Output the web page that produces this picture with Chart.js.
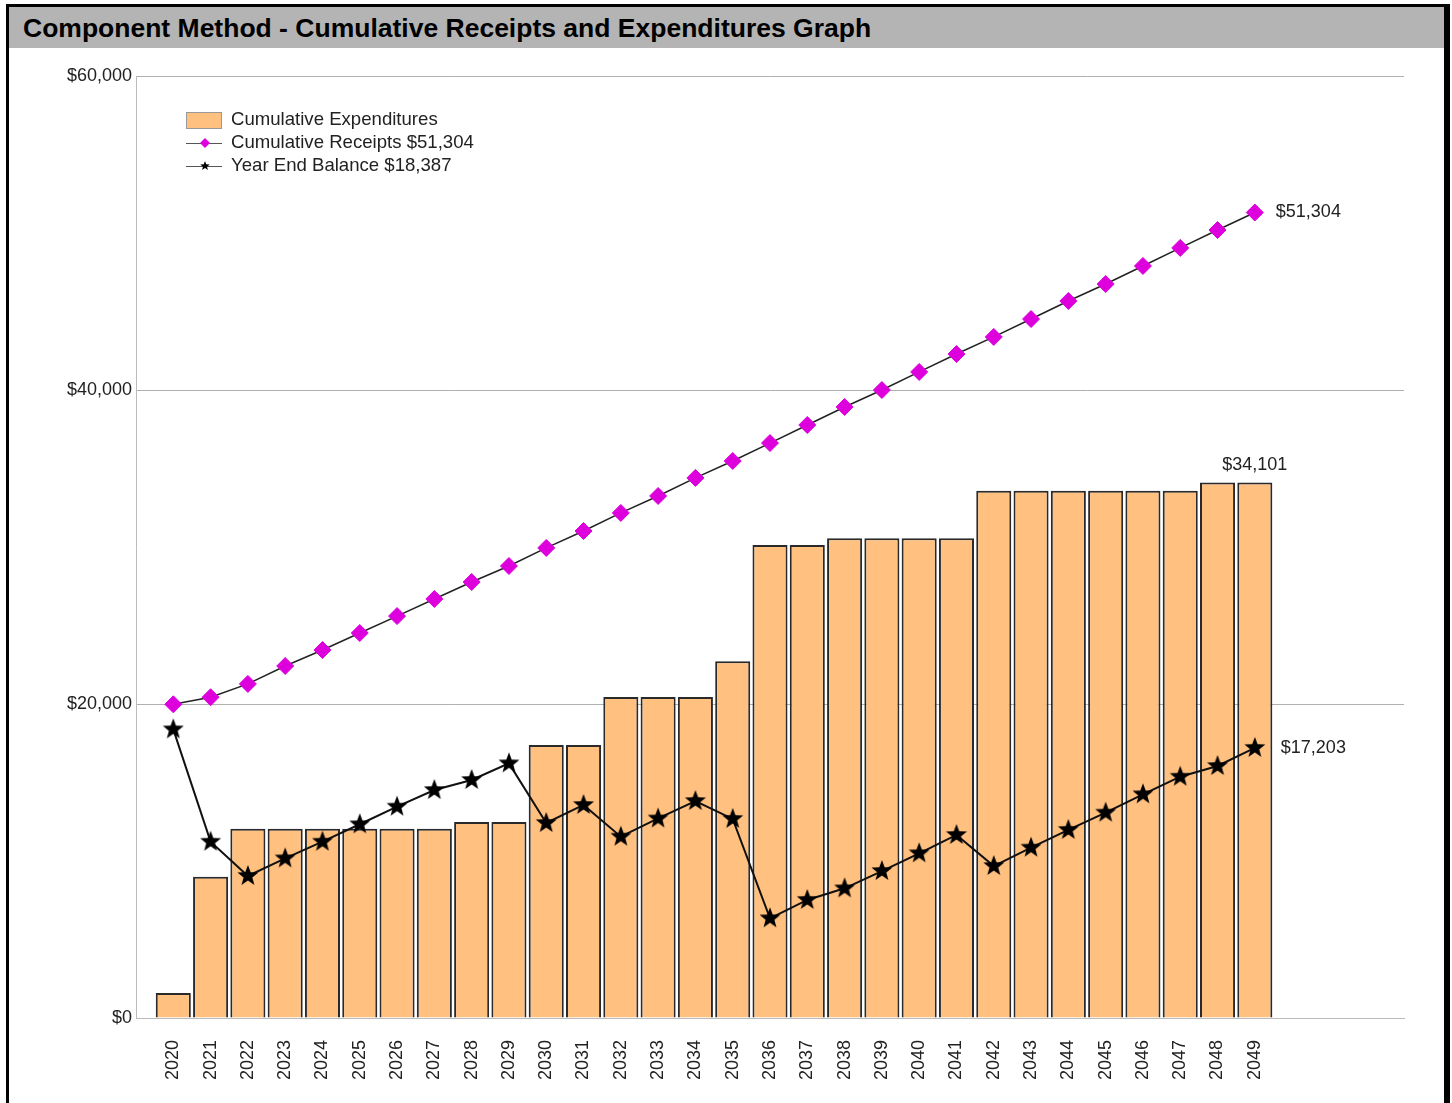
<!DOCTYPE html>
<html>
<head>
<meta charset="utf-8">
<script src="https://cdn.jsdelivr.net/npm/chart.js@4.4.0/dist/chart.umd.min.js"></script>
<style>
  body { margin: 0; background: #fff; font-family: "Liberation Sans", Arial, sans-serif; }
  #frame { position: absolute; left: 6px; top: 4px; width: 1435px; height: 1120px;
           border-left: 3px solid #000; border-top: 3px solid #000; border-right: 6px solid #000; }
  #title { height: 41px; background: #b4b4b4; font-weight: bold; font-size: 26.5px; line-height: 42px;
           padding-left: 14px; color: #000; white-space: nowrap; }
  #wrap { position: relative; width: 1435px; height: 1055px; }
</style>
</head>
<body>
<div id="frame">
  <div id="title">Component Method - Cumulative Receipts and Expenditures Graph</div>
  <div id="wrap"><canvas id="myChart"></canvas></div>
</div>
<script>
const years = [2020, 2021, 2022, 2023, 2024, 2025, 2026, 2027, 2028, 2029,
               2030, 2031, 2032, 2033, 2034, 2035, 2036, 2037, 2038, 2039,
               2040, 2041, 2042, 2043, 2044, 2045, 2046, 2047, 2048, 2049];
const expenditures = [1590, 9000, 12060, 12060, 12060, 12060, 12060, 12060, 12480, 12480,
                      17390, 17390, 20450, 20450, 20450, 22720, 30130, 30130, 30560, 30560,
                      30560, 30560, 33590, 33590, 33590, 33590, 33590, 33590, 34101, 34101];
const receipts = [19980, 20430, 21280, 22420, 23440, 24520, 25600, 26690, 27770, 28790,
                  29940, 31020, 32170, 33250, 34400, 35480, 36620, 37770, 38920, 40000,
                  41150, 42290, 43380, 44520, 45670, 46750, 47900, 49050, 50190, 51304];
const balance = [18387, 11230, 9045, 10170, 11230, 12340, 13460, 14520, 15160, 16220,
                 12420, 13570, 11550, 12710, 13820, 12680, 6350, 7520, 8260, 9360,
                 10490, 11660, 9680, 10850, 11980, 13080, 14250, 15370, 16050, 17203];
const yTicks = [0, 20000, 40000, 60000];

const money = v => '$' + v.toLocaleString('en-US');

function makeStar(r) {
  const c = document.createElement('canvas');
  const s = Math.ceil(r * 2 + 2);
  c.width = s; c.height = s;
  const g = c.getContext('2d');
  g.translate(s / 2, s / 2);
  g.beginPath();
  for (let i = 0; i < 10; i++) {
    const rad = i % 2 === 0 ? r : r * 0.42;
    const a = -Math.PI / 2 + i * Math.PI / 5;
    g.lineTo(Math.cos(a) * rad, Math.sin(a) * rad);
  }
  g.closePath();
  g.fillStyle = '#000';
  g.fill();
  return c;
}
const bigStar = makeStar(11);
const smallStar = makeStar(5);

// legend drawn in the upper left of the plot
const boxLegend = {
  id: 'boxLegend',
  afterDraw(chart) {
    const ctx = chart.ctx;
    const a = chart.chartArea;
    const x = a.left + 50;
    const sets = chart.data.datasets;
    ctx.save();
    ctx.font = '18.6px "Liberation Sans", Arial, sans-serif';
    ctx.textBaseline = 'middle';
    ctx.fillStyle = '#222';
    sets.forEach((ds, i) => {
      const y = a.top + 44 + i * 23;
      if (i === 0) {
        ctx.fillStyle = ds.backgroundColor;
        ctx.fillRect(x, y - 8, 36, 17);
        ctx.strokeStyle = '#999';
        ctx.lineWidth = 1;
        ctx.strokeRect(x + 0.5, y - 7.5, 35, 16);
      } else {
        ctx.strokeStyle = '#555';
        ctx.lineWidth = 1;
        ctx.beginPath();
        ctx.moveTo(x, y + 0.5);
        ctx.lineTo(x + 36, y + 0.5);
        ctx.stroke();
        if (i === 1) {
          ctx.fillStyle = ds.pointBackgroundColor;
          ctx.beginPath();
          ctx.moveTo(x + 19 - 5, y);
          ctx.lineTo(x + 19, y - 5);
          ctx.lineTo(x + 19 + 5, y);
          ctx.lineTo(x + 19, y + 5);
          ctx.closePath();
          ctx.fill();
        } else {
          ctx.drawImage(smallStar, x + 19 - smallStar.width / 2, y - smallStar.height / 2);
        }
      }
      ctx.fillStyle = '#222';
      ctx.fillText(ds.label, a.left + 95, y);
    });
    ctx.restore();
  }
};

// value labels at the end of each series
const endLabels = {
  id: 'endLabels',
  afterDatasetsDraw(chart) {
    const ctx = chart.ctx;
    const last = years.length - 1;
    ctx.save();
    ctx.font = '18px "Liberation Sans", Arial, sans-serif';
    ctx.fillStyle = '#222';
    ctx.textBaseline = 'middle';
    const bar = chart.getDatasetMeta(0).data[last];
    ctx.textAlign = 'center';
    ctx.fillText(money(expenditures[last]), bar.x, bar.y - 18);
    ctx.textAlign = 'left';
    const p1 = chart.getDatasetMeta(1).data[last];
    ctx.fillText(money(receipts[last]), p1.x + 21, p1.y);
    const p2 = chart.getDatasetMeta(2).data[last];
    ctx.fillText(money(balance[last]), p2.x + 26, p2.y);
    ctx.restore();
  }
};

const ctx = document.getElementById('myChart').getContext('2d');
new Chart(ctx, {
  type: 'bar',
  data: {
    datasets: [{
      type: 'bar',
      label: 'Cumulative Expenditures',
      data: years.map((y, i) => ({ x: y, y: expenditures[i] })),
      backgroundColor: '#ffc080',
      borderColor: '#2a2a2a',
      borderWidth: 2,
      categoryPercentage: 1,
      barPercentage: 0.94,
      order: 3
    }, {
      type: 'line',
      label: 'Cumulative Receipts ' + money(receipts[receipts.length - 1]),
      data: years.map((y, i) => ({ x: y, y: receipts[i] })),
      borderColor: '#222',
      borderWidth: 1.5,
      tension: 0,
      pointStyle: 'rectRot',
      pointRadius: 8.5,
      pointBackgroundColor: '#dd00dd',
      pointBorderColor: '#dd00dd',
      pointBorderWidth: 1,
      order: 2
    }, {
      type: 'line',
      label: 'Year End Balance ' + money(balance[0]),
      data: years.map((y, i) => ({ x: y, y: balance[i] })),
      borderColor: '#111',
      borderWidth: 2,
      tension: 0,
      pointStyle: bigStar,
      pointRadius: 11,
      order: 1
    }]
  },
  options: {
    responsive: true,
    maintainAspectRatio: false,
    animation: false,
    layout: { padding: { left: 0, right: 40, top: 28, bottom: 0 } },
    plugins: {
      legend: { display: false },
      tooltip: { enabled: false }
    },
    scales: {
      x: {
        type: 'linear',
        min: 2019,
        max: 2053,
        offset: false,
        grid: { display: false, offset: false },
        border: { display: true, color: '#bbb', width: 1 },
        afterFit(scale) { scale.height = 85; },
        ticks: {
          stepSize: 1,
          autoSkip: false,
          minRotation: 90,
          maxRotation: 90,
          padding: 14,
          color: '#222',
          font: { family: '"Liberation Sans", Arial, sans-serif', size: 18 },
          callback: v => (v >= years[0] && v <= years[years.length - 1]) ? String(v) : ''
        }
      },
      y: {
        min: 0,
        max: 60000,
        afterFit(scale) { scale.width = 127; },
        afterBuildTicks(scale) { scale.ticks = yTicks.map(v => ({ value: v })); },
        grid: { color: '#b0b0b0', lineWidth: 1, drawTicks: false },
        border: { display: true, color: '#bbb', width: 1 },
        ticks: {
          padding: 4,
          color: '#222',
          font: { family: '"Liberation Sans", Arial, sans-serif', size: 18 },
          callback: v => money(v)
        }
      }
    }
  },
  plugins: [boxLegend, endLabels]
});
</script>
</body>
</html>
